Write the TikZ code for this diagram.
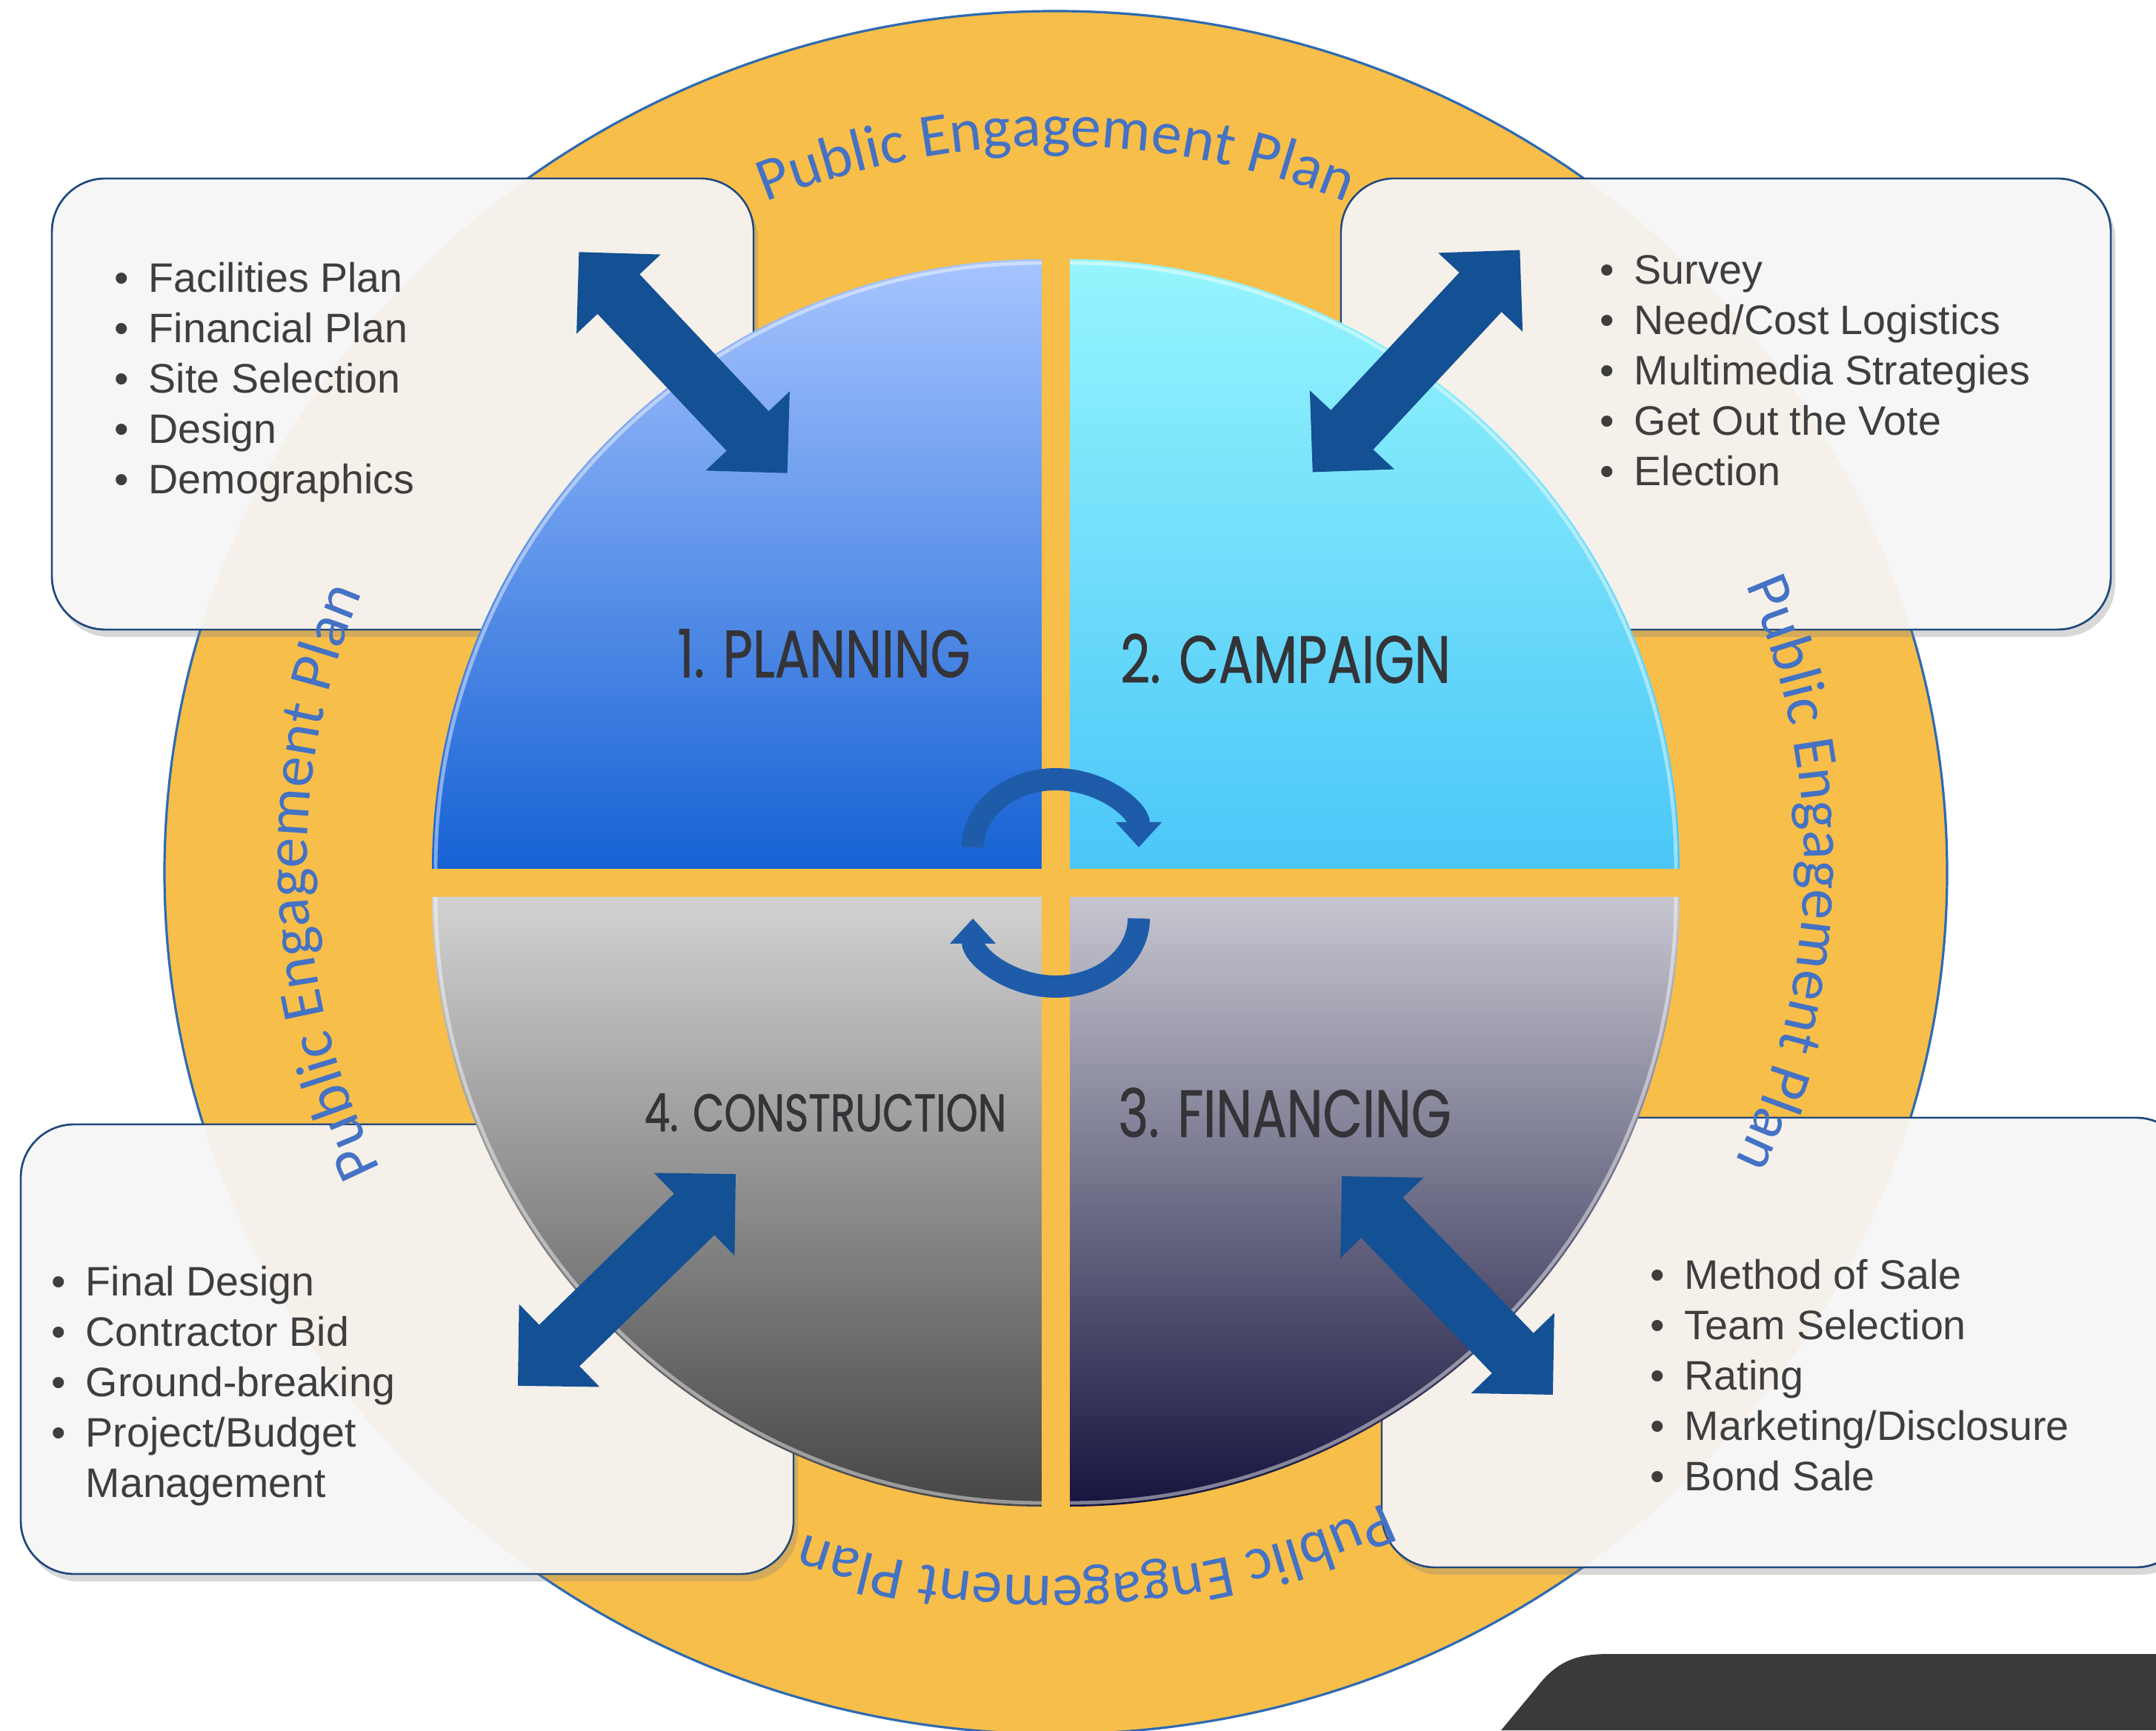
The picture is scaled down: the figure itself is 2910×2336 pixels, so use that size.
\documentclass[tikz,border=0pt]{standalone}
\usepackage{fontspec}
\setmainfont{Liberation Sans}
\newfontfamily\ringfont{Carlito}
\newfontfamily\phasefont[FakeStretch=0.77, FakeBold=0.8]{Poppins}
\usetikzlibrary{positioning,calc,shadows,decorations.text,arrows.meta}

\definecolor{ringorange}{RGB}{247,190,74}
\definecolor{ringedge}{RGB}{46,106,178}
\definecolor{ringblue}{RGB}{68,114,196}
\definecolor{boxgray}{RGB}{246,246,246}
\definecolor{boxtan}{RGB}{245,240,234}
\definecolor{boxline}{RGB}{31,73,125}
\definecolor{textgray}{RGB}{62,62,62}
\definecolor{phasegray}{RGB}{52,52,56}
\definecolor{plantop}{RGB}{166,196,255}
\definecolor{planbot}{RGB}{22,98,212}
\definecolor{camptop}{RGB}{150,245,253}
\definecolor{campbot}{RGB}{74,198,248}
\definecolor{consttop}{RGB}{210,210,210}
\definecolor{constbot}{RGB}{70,70,72}
\definecolor{fintop}{RGB}{198,198,208}
\definecolor{finbot}{RGB}{22,20,62}
\definecolor{arrowblue}{RGB}{19,80,148}
\definecolor{turnblue}{RGB}{30,92,170}
\definecolor{cornerdark}{RGB}{58,58,58}

\newcommand{\bul}{\makebox[11.5pt][l]{•}}
\newcommand{\cont}{\hspace*{11.5pt}}
% tan part of a box that lies on the orange ring
\newcommand{\tanpart}[1]{%
  \begin{scope}
    \clip (1425,1158) ellipse [x radius=1203, y radius=1163];
    \fill[boxtan, rounded corners=18pt] (#1.south west) rectangle (#1.north east);
  \end{scope}
  \draw[boxline, line width=0.6pt, rounded corners=18pt] (#1.south west) rectangle (#1.north east);}

\begin{document}
\begin{tikzpicture}[
  x=0.25pt, y=0.25pt,
  infobox/.style={rectangle, rounded corners=18pt, draw=boxline, line width=0.6pt, fill=boxgray, outer sep=0pt, inner sep=0pt,
    drop shadow={shadow xshift=1.5pt, shadow yshift=-2.5pt, opacity=0.3}},
  listtext/.style={anchor=north west, inner sep=0pt, align=left, text=textgray, font=\fontsize{13.9pt}{17pt}\selectfont},
  phase/.style={text=phasegray, inner sep=0pt, font=\phasefont\fontsize{22.5pt}{24pt}\selectfont},
  ringtext/.style={decorate, decoration={text along path, text align=center, text color=ringblue,
    text={|\ringfont\fontsize{20.6pt}{21pt}\selectfont|Public Engagement Plan}}},
  turn/.style={line width=7.5pt, draw=turnblue, -{Triangle[width=15pt,length=8.5pt]}},
  bevel/.style={white, opacity=0.45, line width=1.2pt},
  duoarrow/.pic={
    \fill[arrowblue] (-205,0) -- (-127,78) -- (-127,39) -- (127,39) -- (127,78) -- (205,0)
      -- (127,-78) -- (127,-39) -- (-127,-39) -- (-127,-78) -- cycle;}
]
\useasboundingbox (0,0) rectangle (2910,2336);
\fill[white] (0,0) rectangle (2910,2336);
\clip (0,0) rectangle (2910,2336);

% orange ring
\filldraw[fill=ringorange, draw=ringedge, line width=0.8pt] (1425,1158) ellipse [x radius=1203, y radius=1163];
\coordinate (ringc) at (1425,1173.5);
\coordinate (piec) at (1425,1144);

% info boxes
\node[infobox, minimum width=236.75pt, minimum height=152.25pt] (planbox) at (543.5,1790.5) {};
\node[infobox, minimum width=259.75pt, minimum height=152.25pt] (campbox) at (2329.5,1790.5) {};
\node[infobox, minimum width=260.75pt, minimum height=151.75pt] (constbox) at (549.5,514.5) {};
\node[infobox, minimum width=272.5pt, minimum height=151.75pt] (finbox) at (2410,523.5) {};
\tanpart{planbox}
\tanpart{campbox}
\tanpart{constbox}
\tanpart{finbox}

% lists
\node[listtext] (planlist) at (154,1983) {\bul Facilities Plan\\ \bul Financial Plan\\ \bul Site Selection\\ \bul Design\\ \bul Demographics};
\node[listtext] (camplist) at (2159,1992) {\bul Survey\\ \bul Need/Cost Logistics\\ \bul Multimedia Strategies\\ \bul Get Out the Vote\\ \bul Election};
\node[listtext] (constlist) at (69,628) {\bul Final Design\\ \bul Contractor Bid\\ \bul Ground-breaking\\ \bul Project/Budget\\ \cont Management};
\node[listtext] (finlist) at (2227,637) {\bul Method of Sale\\ \bul Team Selection\\ \bul Rating\\ \bul Marketing/Disclosure\\ \bul Bond Sale};

% ring texts
\path[ringtext] ($(ringc)+(151:1010 and 965)$) arc[start angle=151, end angle=29, x radius=1010, y radius=965];
\path[ringtext] ($(ringc)+(60:1010 and 965)$) arc[start angle=60, end angle=-62, x radius=1010, y radius=965];
\path[ringtext] ($(ringc)+(-25.7:1010 and 965)$) arc[start angle=-25.7, end angle=-147.7, x radius=1010, y radius=965];
\path[ringtext] ($(ringc)+(242.7:1010 and 965)$) arc[start angle=242.7, end angle=120.7, x radius=1010, y radius=965];

% pie quadrants
\shade[top color=plantop, bottom color=planbot] ($(piec)+(-19,19)$) -- ++(-823,0) arc[start angle=180, end angle=90, radius=823] -- cycle;
\shade[top color=camptop, bottom color=campbot] ($(piec)+(19,19)$) -- ++(823,0) arc[start angle=0, end angle=90, radius=823] -- cycle;
\shade[top color=consttop, bottom color=constbot] ($(piec)+(-19,-19)$) -- ++(-823,0) arc[start angle=180, end angle=270, radius=823] -- cycle;
\shade[top color=fintop, bottom color=finbot] ($(piec)+(19,-19)$) -- ++(823,0) arc[start angle=0, end angle=-90, radius=823] -- cycle;
\draw[bevel] ($(piec)+(-19,19)+(-818,0)$) arc[start angle=180, end angle=90, radius=818];
\draw[bevel] ($(piec)+(19,19)+(818,0)$) arc[start angle=0, end angle=90, radius=818];
\draw[bevel] ($(piec)+(-19,-19)+(-818,0)$) arc[start angle=180, end angle=270, radius=818];
\draw[bevel] ($(piec)+(19,-19)+(818,0)$) arc[start angle=0, end angle=-90, radius=818];

% phase labels
\node[phase] (planning) at (1112,1454) {1. PLANNING};
\node[phase] (campaign) at (1735,1447) {2. CAMPAIGN};
\node[phase, font=\phasefont\fontsize{17.8pt}{20pt}\selectfont] (construction) at (1114,834) {4. CONSTRUCTION};
\node[phase] (financing) at (1734,834) {3. FINANCING};

% cycle arrows
\draw[turn] (1313,1192) arc[start angle=180, end angle=0, x radius=112, y radius=92];
\draw[turn] (1537,1096) arc[start angle=0, end angle=-180, x radius=112, y radius=92];

% double arrows
\pic[rotate=-46.7] (planarrow) at (922,1846.5) {duoarrow};
\pic[rotate=47] (camparrow) at (1911.5,1848.5) {duoarrow};
\pic[rotate=44.2] (constarrow) at (846,608) {duoarrow};
\pic[rotate=-46] (finarrow) at (1953.5,600.5) {duoarrow};

% dark corner
\fill[cornerdark] (2026,0) -- (2075,59) .. controls (2105,98) and (2135,103) .. (2174,103) -- (2910,103) -- (2910,0) -- cycle;
\end{tikzpicture}
\end{document}
